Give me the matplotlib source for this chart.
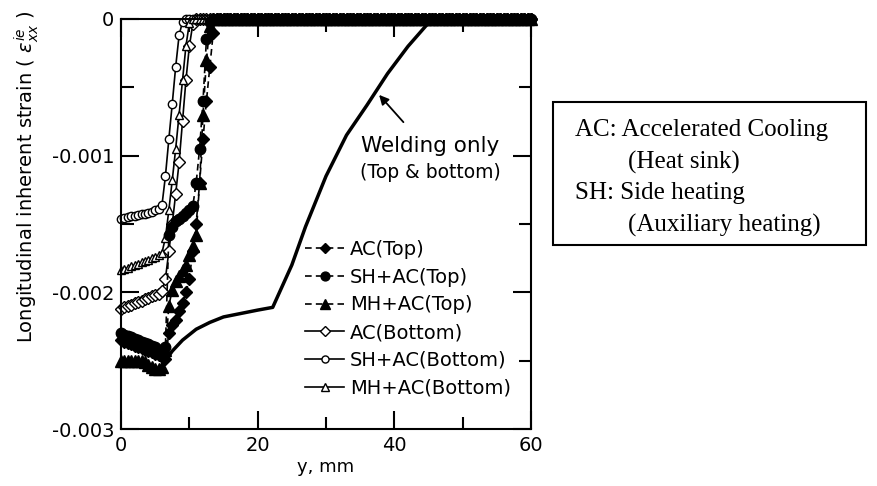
import matplotlib
matplotlib.use('Agg')
import matplotlib.pyplot as plt
from matplotlib.patches import Rectangle

# y positions (mm), 0.5 mm steps across the weld zone
y_mm = [0, 0.5, 1, 1.5, 2, 2.5, 3, 3.5, 4, 4.5, 5, 5.5, 6, 6.5, 7, 7.5, 8, 8.5,
        9, 9.5, 10, 10.5, 11, 11.5, 12, 12.5, 13, 13.5, 14]
y_tail = [14.5 + 0.5 * i for i in range(92)]   # plate region where strain is zero
zero_tail = [0.0] * len(y_tail)

# strain values (x 1e-3) for each case
ac_top = [-2.35, -2.36, -2.37, -2.38, -2.39, -2.40, -2.41, -2.42, -2.43, -2.44,
          -2.45, -2.46, -2.47, -2.49, -2.30, -2.24, -2.20, -2.14, -2.08, -2.00,
          -1.90, -1.70, -1.50, -1.20, -0.88, -0.60, -0.35, -0.10, 0.0]
sh_ac_top = [-2.30, -2.31, -2.32, -2.33, -2.34, -2.35, -2.36, -2.37, -2.38, -2.39,
             -2.40, -2.42, -2.44, -2.40, -1.58, -1.52, -1.48, -1.46, -1.44, -1.42,
             -1.40, -1.37, -1.20, -0.95, -0.60, -0.15, -0.02, 0.0, 0.0]
mh_ac_top = [-2.50, -2.50, -2.50, -2.50, -2.50, -2.50, -2.50, -2.51, -2.53, -2.55,
             -2.56, -2.56, -2.55, -2.42, -2.10, -1.98, -1.92, -1.88, -1.84, -1.80,
             -1.73, -1.66, -1.58, -1.20, -0.70, -0.30, -0.05, 0.0, 0.0]
ac_bot = [-2.12, -2.11, -2.10, -2.09, -2.08, -2.07, -2.06, -2.05, -2.04, -2.03,
          -2.02, -2.01, -1.99, -1.90, -1.70, -1.50, -1.28, -1.05, -0.75, -0.45,
          -0.20, -0.04, 0.0, 0.0, 0.0, 0.0, 0.0, 0.0, 0.0]
sh_ac_bot = [-1.46, -1.455, -1.45, -1.445, -1.44, -1.435, -1.43, -1.425, -1.42, -1.41,
             -1.40, -1.39, -1.36, -1.15, -0.88, -0.62, -0.35, -0.12, -0.02, 0.0,
             0.0, 0.0, 0.0, 0.0, 0.0, 0.0, 0.0, 0.0, 0.0]
mh_ac_bot = [-1.84, -1.83, -1.82, -1.81, -1.80, -1.79, -1.78, -1.77, -1.76, -1.75,
             -1.74, -1.73, -1.71, -1.60, -1.40, -1.18, -0.95, -0.70, -0.45, -0.20,
             -0.03, 0.0, 0.0, 0.0, 0.0, 0.0, 0.0, 0.0, 0.0]

weld_y = [0, 3, 6.5, 7.5, 9, 11, 13, 15, 18, 20, 22.2, 25, 27, 30, 33, 36, 39, 42, 45.5, 60]
weld_e = [-2.32, -2.40, -2.50, -2.43, -2.35, -2.27, -2.22, -2.18, -2.15, -2.13,
          -2.11, -1.80, -1.52, -1.15, -0.85, -0.63, -0.40, -0.20, 0.0, 0.0]

labels = ['AC(Top)', 'SH+AC(Top)', 'MH+AC(Top)', 'AC(Bottom)', 'SH+AC(Bottom)', 'MH+AC(Bottom)']

plt.rcParams['font.family'] = 'DejaVu Sans'
fig = plt.figure(figsize=(8.77, 4.86), dpi=100)
ax = fig.add_axes([121/877, 57/486, 410/877, 410/486])

xs = y_mm + y_tail
series = [ac_top, sh_ac_top, mh_ac_top, ac_bot, sh_ac_bot, mh_ac_bot]
markers = ['D', 'o', '^', 'D', 'o', '^']
top_ms = {'D': 6.5, 'o': 7.5, '^': 8}
lines = {}
# bottom (open) cases first so the filled top cases sit over them
for i in [3, 4, 5, 0, 1, 2]:
    s = series[i]
    ys = [v * 1e-3 for v in s + zero_tail]
    top = i < 3
    lines[i], = ax.plot(xs, ys, color='black', lw=1.2,
                        ls=(0, (4, 2.5)) if top else '-',
                        marker=markers[i], ms=top_ms[markers[i]] if top else 6,
                        mfc='black' if top else 'white', mec='black', mew=1.0,
                        label=labels[i], clip_on=False)

ax.plot(weld_y, [v * 1e-3 for v in weld_e], color='black', lw=2.5, clip_on=False)

ax.set_xlim(0, 60)
ax.set_ylim(-0.003, 0)
ax.set_xticks([0, 20, 40, 60])
ax.set_xticks([10, 30, 50], minor=True)
ax.set_yticks([-0.003, -0.002, -0.001, 0])
ax.set_yticklabels(['-0.003', '-0.002', '-0.001', '0'])
ax.set_yticks([-0.0025, -0.0015, -0.0005], minor=True)
ax.tick_params(which='both', direction='in', top=True, right=True, width=1.5, labelsize=14, pad=5)
ax.tick_params(which='major', length=13)
ax.tick_params(which='minor', length=9)
for sp in ax.spines.values():
    sp.set_linewidth(1.5)

ax.set_xlabel('y, mm', fontsize=13, labelpad=2)
fig.text(0.030, 0.636, r'Longitudinal inherent strain ( $\varepsilon_{xx}^{ie}$ )',
         rotation=90, ha='center', va='center', fontsize=14)

ax.annotate('', xy=(37.5, -0.00054), xytext=(41.6, -0.00077),
            arrowprops=dict(arrowstyle='-|>', color='black', lw=1.3, mutation_scale=14))
ax.text(45.3, -0.00093, 'Welding only', fontsize=15.5, ha='center', va='center')
ax.text(45.3, -0.00112, '(Top & bottom)', fontsize=13.5, ha='center', va='center')

ax.legend([lines[i] for i in range(6)], labels, loc='upper left', bbox_to_anchor=(0.43, 0.48),
          frameon=False, fontsize=14, handlelength=2.0, handletextpad=0.3,
          labelspacing=0.45, borderaxespad=0, markerscale=0.85)

fig.patches.append(Rectangle((553/877, 1 - 245/486), 313/877, 143/486, transform=fig.transFigure,
                             fill=False, lw=1.5, ec='black'))
serif = 'Liberation Serif'
fig.text(575/877, 1 - 130/486, 'AC: Accelerated Cooling', family=serif, fontsize=18, va='center')
fig.text(628/877, 1 - 162/486, '(Heat sink)', family=serif, fontsize=18, va='center')
fig.text(575/877, 1 - 193/486, 'SH: Side heating', family=serif, fontsize=18, va='center')
fig.text(628/877, 1 - 225/486, '(Auxiliary heating)', family=serif, fontsize=18, va='center')

fig.savefig('out.png', dpi=100)
